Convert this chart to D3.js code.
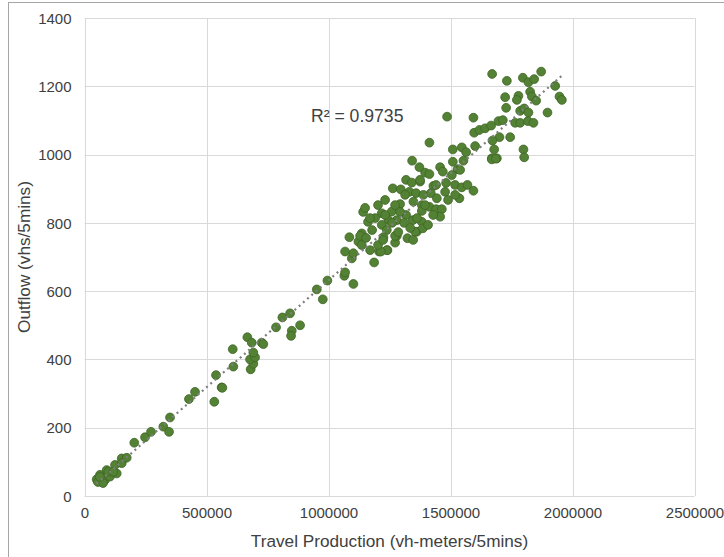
<!DOCTYPE html>
<html>
<head>
<meta charset="utf-8">
<script src="https://cdn.jsdelivr.net/npm/d3@7"></script>
<style>
  html, body { margin: 0; padding: 0; background: #ffffff; }
  svg { display: block; }
  text { font-family: "Liberation Sans", Arial, sans-serif; fill: #404040; }
</style>
</head>
<body>
<svg id="chart" width="724" height="557"></svg>
<script>
// ---- data ----
const travelProduction = [
  50000, 63500, 70500, 84000, 91000, 104500, 125000, 132000, 152500, 152500, 173000, 204000, 248000, 272600,
  323000, 346500, 350500, 428000, 453000, 532000, 562000, 55000, 76000, 97600, 118000, 63000,
  539000, 565000, 610000, 607500, 681000, 692000, 678500, 699000, 692000, 667500, 685500, 726500, 733000,
  785000, 811000, 842500, 849500, 846600, 883500,
  976600, 952000, 995500, 1102000, 1065000, 1068000, 1187000, 1095500, 1068000, 1102000, 1085600, 1136500,
  1122500, 1136500, 1170500, 1207500, 1241500, 1273000, 1280000, 1323500, 1362000,
  1342700, 1372600, 1396000, 1413600, 1457500, 1468500, 1509500, 1553000, 1528400, 1505400, 1519000, 1546400,
  1569400, 1594000, 1536600, 1478000, 1669400, 1690000, 1318000, 1341500, 1375500, 1430000, 1263600, 1296300,
  1331600, 1359000, 1389000, 1419300, 1444000, 1232000, 1293500, 1348000, 1382400, 1413600, 1441000, 1464400,
  1457500, 1259400, 1318000, 1382400, 1218400, 1245500, 1280000, 1310000, 1345500, 1382400, 1386500, 1355000,
  1218400, 1239000, 1273000, 1225000, 1239000, 1214500,
  1142000, 1150000, 1162000, 1178700, 1191000, 1203000, 1129500, 1154000,
  1293500, 1261000, 1335000, 1363000, 1408000, 1429000, 1396000, 1314000, 1273000, 1232000, 1203000, 1170000,
  1224000, 1286000, 1375000, 1441000, 1490000, 1519000, 1482000, 1347000,
  1670600, 1731000, 1796500, 1819500, 1843000, 1871600, 1929000, 1946600, 1956400, 1724000, 1778500, 1772000,
  1826400, 1833500, 1851000, 1728000, 1785500, 1802000, 1819500, 1897500, 1594000, 1696500, 1714500, 1765000,
  1785500, 1817000, 1840000, 1597000, 1618500, 1642000, 1666500, 1700600, 1744500, 1672000, 1601000, 1679000,
  1799000, 1802000, 1669400, 1686000, 1546400, 1564000, 1539400, 1486000, 1413600, 1509500
];
const outflow = [
  49, 62, 52, 47, 76, 57, 91, 66, 110, 96, 112, 156, 172, 188,
  203, 188, 230, 284, 305, 276, 318, 41, 38, 71, 71, 56,
  354, 317, 379, 430, 371, 387, 400, 406, 420, 465, 449, 449, 445,
  494, 523, 535, 484, 469, 500,
  576, 605, 631, 621, 645, 655, 684, 696, 716, 711, 758, 769,
  745, 735, 720, 716, 720, 742, 762, 755, 774,
  982, 963, 947, 943, 963, 950, 979, 982, 957, 940, 911, 904,
  911, 894, 872, 891, 989, 989, 926, 918, 921, 908, 901, 898,
  891, 887, 882, 887, 872, 867, 855, 862, 852, 847, 840, 840,
  818, 833, 823, 835, 828, 808, 808, 800, 808, 803, 784, 774,
  794, 779, 762, 758, 720, 716,
  832, 844, 803, 779, 814, 735, 762, 756,
  832, 800, 785, 814, 794, 823, 852, 882, 852, 823, 852, 814,
  750, 773, 926, 911, 867, 882, 917, 750,
  1236, 1216, 1225, 1212, 1221, 1243, 1201, 1170, 1160, 1168, 1172, 1160,
  1184, 1170, 1158, 1137, 1128, 1135, 1123, 1123, 1108, 1098, 1101, 1093,
  1093, 1098, 1093, 1064, 1072, 1077, 1085, 1051, 1051, 1041, 1025, 1015,
  1015, 992, 986, 988, 1021, 1007, 955, 1111, 1035, 1015
];
const xTicks = [0, 500000, 1000000, 1500000, 2000000, 2500000];
const yTicks = [0, 200, 400, 600, 800, 1000, 1200, 1400];
const xTitle = "Travel Production (vh-meters/5mins)";
const yTitle = "Outflow (vhs/5mins)";
const r2Label = "R² = 0.9735";

// ---- layout ----
const svg = d3.select("#chart");
const pLeft = 84.5, pRight = 694.5, pTop = 18, pBottom = 496;

const x = d3.scaleLinear().domain([0, 2500000]).range([pLeft, pRight]);
const y = d3.scaleLinear().domain([0, 1400]).range([pBottom, pTop]);

// outer frame (cropped at right / bottom)
svg.append("rect")
  .attr("x", 8.5).attr("y", 2.5).attr("width", 900).attr("height", 900)
  .attr("fill", "none").attr("stroke", "#a6a6a6").attr("stroke-width", 1);

// gridlines
const grid = svg.append("g");
grid.selectAll(".hg").data(yTicks).join("line")
  .attr("x1", pLeft).attr("x2", pRight)
  .attr("y1", d => Math.round(y(d)) + 0.5).attr("y2", d => Math.round(y(d)) + 0.5)
  .attr("stroke", "#d9d9d9").attr("stroke-width", 1);
grid.selectAll(".vg").data(xTicks).join("line")
  .attr("y1", pTop).attr("y2", pBottom)
  .attr("x1", d => Math.round(x(d)) + 0.5).attr("x2", d => Math.round(x(d)) + 0.5)
  .attr("stroke", "#d9d9d9").attr("stroke-width", 1);

// axes labels via d3 axes (no domain/ticks lines)
const yAxis = svg.append("g").attr("transform", `translate(${pLeft - 13},0)`)
  .call(d3.axisLeft(y).tickValues(yTicks).tickSize(0).tickPadding(0).tickFormat(d3.format("d")));
yAxis.select(".domain").remove();
yAxis.selectAll("text").attr("font-size", "15px").attr("fill", "#404040")
  .style("font-family", "'Liberation Sans', Arial, sans-serif").attr("dy", "0.35em");

const xAxis = svg.append("g").attr("transform", `translate(0,${pBottom + 11})`)
  .call(d3.axisBottom(x).tickValues(xTicks).tickSize(0).tickPadding(0).tickFormat(d3.format("d")));
xAxis.select(".domain").remove();
xAxis.selectAll("text").attr("font-size", "15px").attr("fill", "#404040")
  .style("font-family", "'Liberation Sans', Arial, sans-serif");

// titles
svg.append("text").attr("x", (pLeft + pRight) / 2).attr("y", 547)
  .attr("text-anchor", "middle").attr("font-size", "17.2px").text(xTitle);
svg.append("text").attr("transform", `translate(30,${(pTop + pBottom) / 2}) rotate(-90)`)
  .attr("text-anchor", "middle").attr("font-size", "17.2px").text(yTitle);

// points
const pts = travelProduction.map((v, i) => ({ x: v, y: outflow[i] }));
svg.append("g").selectAll("circle").data(pts).join("circle")
  .attr("cx", d => x(d.x)).attr("cy", d => y(d.y)).attr("r", 4.4)
  .attr("fill", "#548235").attr("stroke", "#3d6424").attr("stroke-width", 0.8);

// linear trendline (least squares from data)
const mx = d3.mean(pts, d => d.x), my = d3.mean(pts, d => d.y);
const slope = d3.sum(pts, d => (d.x - mx) * (d.y - my)) / d3.sum(pts, d => (d.x - mx) ** 2);
const intercept = my - slope * mx;
const [xmin, xmax] = d3.extent(pts, d => d.x);
svg.append("line")
  .attr("x1", x(xmin)).attr("y1", y(slope * xmin + intercept))
  .attr("x2", x(xmax)).attr("y2", y(slope * xmax + intercept))
  .attr("stroke", "#7f7f7f").attr("stroke-width", 2.2)
  .attr("stroke-dasharray", "2 3.6");

// R² label
svg.append("text").attr("x", 311).attr("y", 122)
  .attr("font-size", "17.6px").attr("fill", "#000000").text(r2Label);
</script>
</body>
</html>
